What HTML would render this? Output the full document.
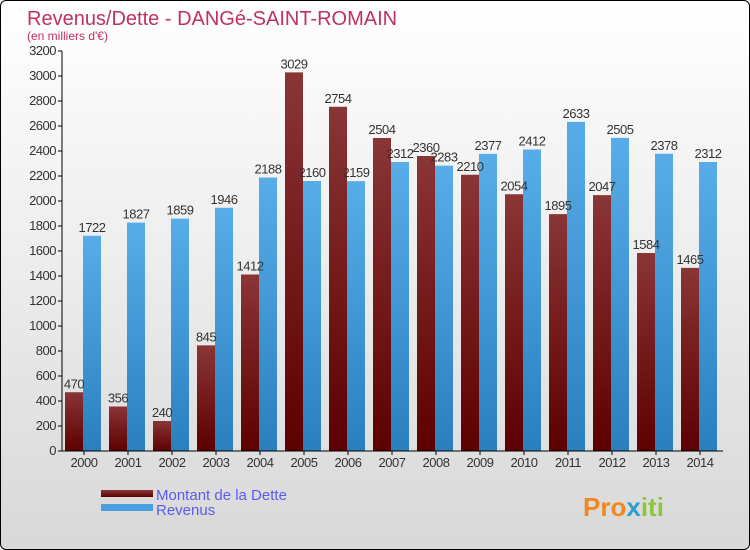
<!DOCTYPE html>
<html><head><meta charset="utf-8"><style>
body{margin:0}
#c{position:relative;width:748px;height:548px;border:1px solid #000;border-radius:6px;overflow:hidden;background:linear-gradient(#fff,#f0f0f0 40%,#d8d8d8);font-family:"Liberation Sans","DejaVu Sans",sans-serif}
</style></head><body>
<div id="c">
<svg id="s" width="748" height="548">
<defs>
<linearGradient id="gd" x1="0" y1="0" x2="0" y2="1"><stop offset="0" stop-color="#8a3536"/><stop offset="1" stop-color="#5c0000"/></linearGradient>
<linearGradient id="gr" x1="0" y1="0" x2="0" y2="1"><stop offset="0" stop-color="#58ade8"/><stop offset="1" stop-color="#2a7fbf"/></linearGradient>
</defs>
<text x="26" y="24" font-size="20" fill="#c0325e">Revenus/Dette - DANGé-SAINT-ROMAIN</text>
<text x="26" y="39" font-size="12" fill="#c0325e">(en milliers d'€)</text>
<g id="g"></g>
<rect x="100" y="489" width="52" height="7" fill="url(#gd)"/>
<rect x="100" y="503" width="52" height="7" fill="#4a9fe0"/>
<text x="155" y="499" font-size="15" fill="#5b5bf0">Montant de la Dette</text>
<text x="155" y="514" font-size="15" fill="#5b5bf0">Revenus</text>
<text x="582" y="515" font-size="26" font-weight="bold" fill="#f08a20">Pro<tspan fill="#2a9fd0">x</tspan><tspan fill="#8cc63f">iti</tspan></text>
</svg>
</div>
<script>
const years=["2000","2001","2002","2003","2004","2005","2006","2007","2008","2009","2010","2011","2012","2013","2014"];
const dette=[470,356,240,845,1412,3029,2754,2504,2360,2210,2054,1895,2047,1584,1465];
const revenus=[1722,1827,1859,1946,2188,2160,2159,2312,2283,2377,2412,2633,2505,2378,2312];
const ticks=[0,200,400,600,800,1000,1200,1400,1600,1800,2000,2200,2400,2600,2800,3000,3200];
const NS="http://www.w3.org/2000/svg",g=document.getElementById('g');
const x0=61,step=44,y=v=>450-v*0.125;
function mk(t,a,txt){const e=document.createElementNS(NS,t);for(const k in a)e.setAttribute(k,a[k]);if(txt!==undefined)e.textContent=txt;g.appendChild(e);return e;}
ticks.forEach(t=>{
const l=mk('line',{x1:57,x2:61,y1:y(t),y2:y(t),stroke:'#000'});


const tx=mk('text',{x:55,y:y(t)+4,'font-size':13,'text-anchor':'end',fill:'#333','letter-spacing':'-0.5'},t);


});
years.forEach((yr,i)=>{
const c=x0+step*i+22;
const b1=mk('rect',{x:c-19,y:y(dette[i]),width:18,height:dette[i]*0.125,fill:'url(#gd)'});


const b2=mk('rect',{x:c-1,y:y(revenus[i]),width:18,height:revenus[i]*0.125,fill:'url(#gr)'});


const l1=mk('text',{x:c-10,y:y(dette[i])-4,'font-size':13,'text-anchor':'middle',fill:'#333','letter-spacing':'-0.5'},dette[i]);


const l2=mk('text',{x:c+8,y:y(revenus[i])-4,'font-size':13,'text-anchor':'middle',fill:'#333','letter-spacing':'-0.5'},revenus[i]);


const tk=mk('line',{x1:c,x2:c,y1:450,y2:454,stroke:'#000'});


const xl=mk('text',{x:c,y:466,'font-size':13,'text-anchor':'middle',fill:'#333','letter-spacing':'-0.5'},yr);


});
const ya=mk('line',{x1:61,x2:61,y1:50,y2:450,stroke:'#000'});


const xa=mk('line',{x1:61,x2:722,y1:450,y2:450,stroke:'#000'});


</script>
</body></html>
